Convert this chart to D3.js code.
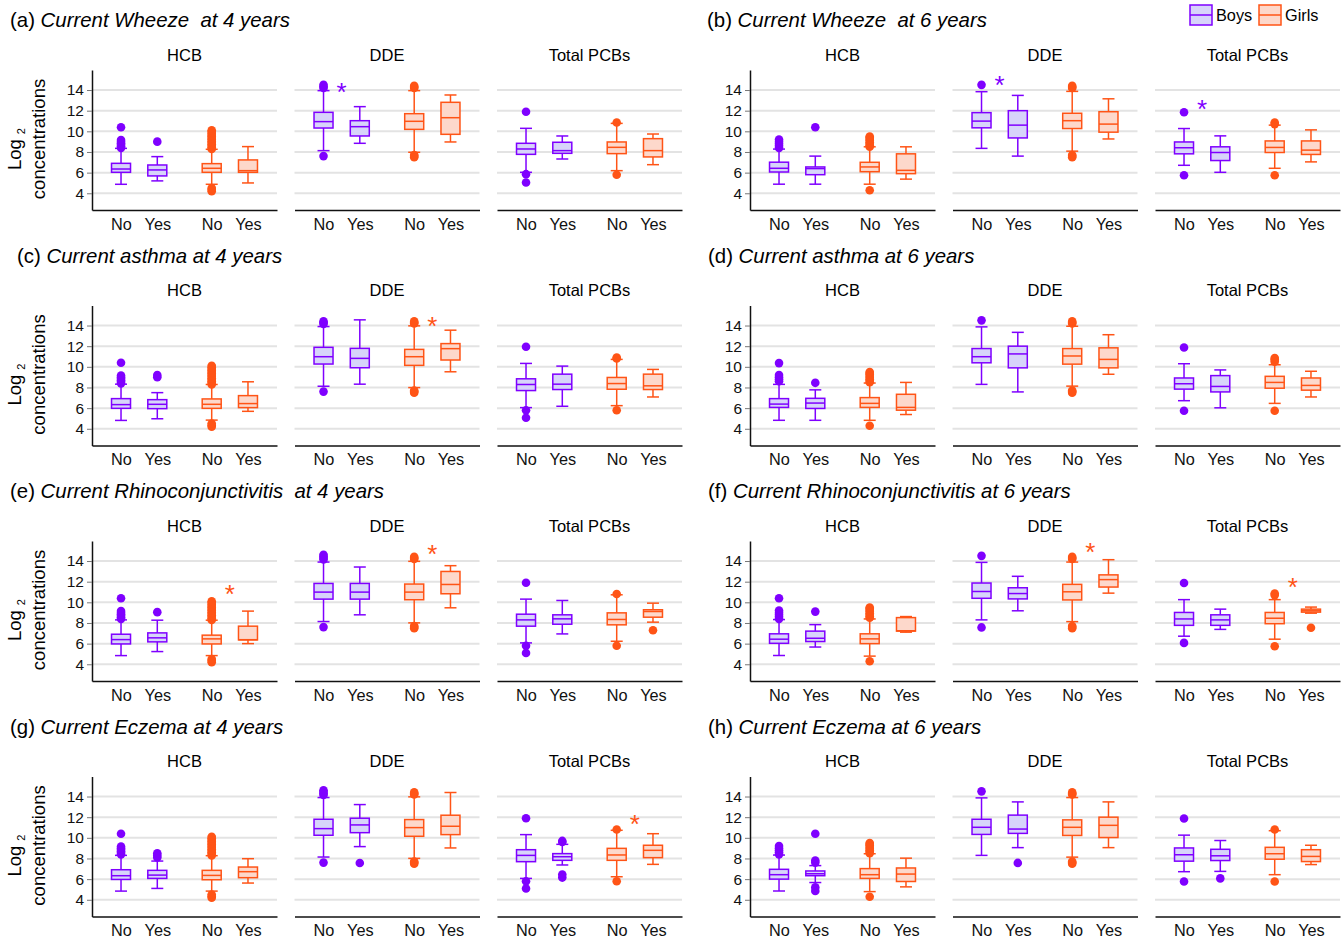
<!DOCTYPE html>
<html>
<head>
<meta charset="utf-8">
<script src="https://cdn.jsdelivr.net/npm/d3@7"></script>
<style>
  body { margin: 0; background: #fff; }
  svg { font-family: "Liberation Sans", Arial, sans-serif; }
</style>
</head>
<body>
<script>
// panel headings
const panelLabels = ['(a)', '(b)', '(c)', '(d)', '(e)', '(f)', '(g)', '(h)'];
const panelNames = [
  'Current Wheeze  at 4 years', 'Current Wheeze  at 6 years',
  'Current asthma at 4 years', 'Current asthma at 6 years',
  'Current Rhinoconjunctivitis  at 4 years', 'Current Rhinoconjunctivitis at 6 years',
  'Current Eczema at 4 years', 'Current Eczema at 6 years'
];
const compounds = ['HCB', 'DDE', 'Total PCBs'];
const groupLabels = ['No', 'Yes', 'No', 'Yes'];
const groupSex = ['Boys', 'Boys', 'Girls', 'Girls'];
const yTicks = [4, 6, 8, 10, 12, 14];

// box stats per compound (HCB, DDE, PCBs), groups boys no/yes, girls no/yes
// each: [lower whisker, q1, median, q3, upper whisker]
const wheeze4 = [
  [[4.87, 6.03, 6.35, 6.9, 8.35], [5.2, 5.68, 6.26, 6.74, 7.55], [4.87, 6.03, 6.42, 6.87, 8.26], [5.0, 6.03, 6.19, 7.23, 8.52]],
  [[8.13, 10.32, 10.94, 11.84, 13.94], [8.84, 9.55, 10.45, 11.03, 12.39], [7.97, 10.19, 10.97, 11.71, 13.94], [8.97, 9.71, 11.32, 12.81, 13.52]],
  [[6.03, 7.77, 8.29, 8.84, 10.29], [7.32, 7.87, 8.13, 8.94, 9.55], [6.19, 7.84, 8.45, 8.97, 10.77], [6.77, 7.52, 8.13, 9.29, 9.74]]
];
const wheeze6 = [
  [[4.88, 6.06, 6.42, 7.01, 8.28], [4.88, 5.8, 6.39, 6.55, 7.6], [4.88, 6.09, 6.55, 7.0, 8.5], [5.37, 5.9, 6.22, 7.82, 8.5]],
  [[8.35, 10.34, 10.99, 11.81, 13.84], [7.6, 9.36, 10.6, 12.0, 13.48], [8.08, 10.27, 11.03, 11.75, 13.87], [9.26, 9.92, 10.7, 11.9, 13.15]],
  [[6.71, 7.82, 8.41, 8.97, 10.27], [6.03, 7.17, 7.95, 8.5, 9.56], [6.42, 7.95, 8.44, 9.07, 10.6], [7.04, 7.76, 8.18, 9.07, 10.14]]
];
const asthma4 = [
  [[4.81, 5.98, 6.34, 6.92, 8.32], [4.97, 5.95, 6.37, 6.82, 7.5], [4.84, 5.98, 6.37, 6.89, 8.29], [5.69, 6.05, 6.44, 7.21, 8.55]],
  [[8.12, 10.27, 10.98, 11.89, 13.9], [8.32, 9.91, 10.82, 11.79, 14.55], [7.99, 10.14, 10.98, 11.69, 13.97], [9.52, 10.66, 11.76, 12.25, 13.55]],
  [[6.05, 7.7, 8.29, 8.84, 10.33], [6.18, 7.8, 8.32, 9.29, 10.07], [6.24, 7.83, 8.38, 8.97, 10.72], [7.08, 7.8, 8.16, 9.29, 9.75]]
];
const asthma6 = [
  [[4.82, 6.07, 6.39, 6.92, 8.3], [4.82, 5.97, 6.49, 6.95, 7.77], [4.82, 6.07, 6.46, 7.02, 8.43], [5.38, 5.8, 6.07, 7.34, 8.49]],
  [[8.3, 10.39, 10.98, 11.77, 13.87], [7.57, 9.9, 11.25, 12.0, 13.34], [8.13, 10.26, 11.05, 11.77, 13.93], [9.28, 9.9, 10.72, 11.84, 13.11]],
  [[6.72, 7.84, 8.36, 8.92, 10.3], [6.03, 7.57, 8.1, 9.15, 9.7], [6.46, 7.93, 8.49, 9.08, 10.2], [7.08, 7.74, 8.2, 8.92, 9.57]]
];
const rhino4 = [
  [[4.84, 5.97, 6.39, 6.91, 8.3], [5.23, 6.17, 6.56, 7.04, 8.27], [4.84, 5.97, 6.46, 6.82, 8.27], [6.0, 6.36, 6.38, 7.69, 9.15]],
  [[8.14, 10.31, 10.99, 11.83, 13.9], [8.79, 10.31, 10.99, 11.83, 13.42], [8.01, 10.25, 10.99, 11.77, 13.97], [9.47, 10.83, 11.73, 12.99, 13.55]],
  [[6.07, 7.69, 8.3, 8.85, 10.31], [6.94, 7.88, 8.4, 8.79, 10.18], [6.23, 7.82, 8.34, 8.98, 10.73], [8.08, 8.56, 9.11, 9.28, 9.92]]
];
const rhino6 = [
  [[4.85, 6.03, 6.43, 6.95, 8.33], [5.67, 6.2, 6.52, 7.21, 7.84], [4.79, 6.0, 6.46, 6.95, 8.39], [7.11, 7.21, 7.25, 8.52, 8.62]],
  [[8.3, 10.39, 11.05, 11.87, 13.87], [9.18, 10.33, 10.85, 11.41, 12.52], [8.13, 10.23, 11.02, 11.74, 13.9], [10.89, 11.48, 12.2, 12.66, 14.13]],
  [[6.72, 7.77, 8.39, 9.02, 10.26], [7.38, 7.77, 8.3, 8.79, 9.34], [6.43, 7.93, 8.46, 9.02, 10.26], [8.95, 9.05, 9.18, 9.34, 9.54]]
];
const eczema4 = [
  [[4.84, 5.97, 6.33, 6.91, 8.3], [5.1, 6.07, 6.39, 6.85, 7.75], [4.84, 5.94, 6.36, 6.85, 8.27], [5.62, 6.14, 6.72, 7.17, 7.98]],
  [[8.14, 10.25, 10.89, 11.8, 13.9], [9.15, 10.5, 11.25, 11.9, 13.22], [8.01, 10.15, 10.99, 11.77, 13.97], [9.02, 10.31, 11.12, 12.19, 14.39]],
  [[6.07, 7.69, 8.3, 8.85, 10.31], [7.37, 7.82, 8.17, 8.47, 9.37], [6.23, 7.82, 8.34, 8.98, 10.73], [7.43, 8.08, 8.79, 9.28, 10.4]]
];
const eczema6 = [
  [[4.85, 6.0, 6.43, 6.95, 8.33], [5.67, 6.33, 6.52, 6.79, 7.31], [4.79, 6.07, 6.43, 7.02, 8.46], [5.25, 5.77, 6.49, 7.08, 8.03]],
  [[8.3, 10.33, 11.02, 11.8, 13.87], [9.05, 10.43, 10.85, 12.2, 13.48], [8.13, 10.23, 11.02, 11.74, 13.9], [9.05, 10.03, 11.21, 12.0, 13.48]],
  [[6.72, 7.74, 8.36, 9.02, 10.26], [6.75, 7.8, 8.26, 8.89, 9.74], [6.43, 7.93, 8.46, 9.08, 10.69], [7.41, 7.7, 8.2, 8.85, 9.28]]
];

// outliers, same layout
const hcbGirlsNoOut4 = [4.2, 4.35, 4.5, 8.3, 8.45, 8.6, 8.75, 8.9, 9.05, 9.2, 9.35, 9.5, 9.65, 9.8, 9.95, 10.1];
const hcbGirlsNoOut6 = [4.3, 8.5, 8.65, 8.8, 8.95, 9.1, 9.25, 9.4, 9.5];
const ddeGirlsNoOut = [7.5, 7.6, 7.7, 14.2, 14.3, 14.4];
const wheeze4Out = [
  [[8.4, 8.55, 8.7, 8.85, 9.0, 9.15, 10.4], [9.0], hcbGirlsNoOut4, []],
  [[7.6, 14.2, 14.35, 14.5], [], ddeGirlsNoOut, []],
  [[5.05, 5.85, 11.9], [], [5.8, 10.85], []]
];
const wheeze6Out = [
  [[8.4, 8.6, 8.8, 9.0, 9.2], [10.4], hcbGirlsNoOut6, []],
  [[14.5], [], ddeGirlsNoOut, []],
  [[5.75, 11.85], [], [5.75, 10.7, 10.85], []]
];
const asthma4Out = [
  [[8.4, 8.55, 8.7, 8.85, 9.0, 9.15, 10.4], [9.0, 9.2], hcbGirlsNoOut4, []],
  [[7.6, 14.15, 14.3, 14.4], [], ddeGirlsNoOut, []],
  [[5.07, 5.8, 11.95], [], [5.8, 10.8, 10.9], []]
];
const asthma6Out = [
  [[8.6, 8.8, 9.0, 9.2, 10.36], [8.45], hcbGirlsNoOut6, []],
  [[14.5], [], ddeGirlsNoOut, []],
  [[5.75, 11.87], [], [5.75, 10.5, 10.7, 10.85], []]
];
const rhino4Out = [
  [[8.4, 8.55, 8.7, 8.85, 9.0, 9.15, 10.4], [9.05], hcbGirlsNoOut4, []],
  [[7.6, 14.15, 14.3, 14.45, 14.6], [], ddeGirlsNoOut, []],
  [[5.1, 5.8, 11.9], [], [5.8, 10.8], [7.3]]
];
const rhino6Out = [
  [[8.4, 8.6, 8.8, 9.0, 9.2, 10.4], [9.1], hcbGirlsNoOut6, []],
  [[7.57, 14.5], [], ddeGirlsNoOut, []],
  [[6.07, 11.87], [], [5.75, 10.7, 10.85], [7.54]]
];
const eczema4Out = [
  [[8.4, 8.55, 8.7, 8.85, 9.0, 9.15, 10.4], [8.1, 8.3, 8.5], hcbGirlsNoOut4, []],
  [[7.6, 14.15, 14.3, 14.45, 14.6], [7.56], ddeGirlsNoOut, []],
  [[5.1, 5.8, 11.9], [6.15, 6.45, 9.6, 9.7], [5.8, 10.8], []]
];
const eczema6Out = [
  [[8.4, 8.6, 8.8, 9.0, 9.2], [4.85, 5.2, 7.6, 7.8, 10.4], hcbGirlsNoOut6, []],
  [[14.5], [7.57], ddeGirlsNoOut, []],
  [[5.77, 11.87], [6.07], [5.77, 10.8], []]
];

const panelStats = [wheeze4, wheeze6, asthma4, asthma6, rhino4, rhino6, eczema4, eczema6];
const panelOutliers = [wheeze4Out, wheeze6Out, asthma4Out, asthma6Out, rhino4Out, rhino6Out, eczema4Out, eczema6Out];

// significance stars: panel, compound, sex, height in log2 units
const stars = [
  { panel: 0, compound: 1, sex: 'Boys', value: 14.4 },
  { panel: 1, compound: 1, sex: 'Boys', value: 15.1 },
  { panel: 1, compound: 2, sex: 'Boys', value: 12.7 },
  { panel: 2, compound: 1, sex: 'Girls', value: 14.5 },
  { panel: 4, compound: 0, sex: 'Girls', value: 11.4 },
  { panel: 4, compound: 1, sex: 'Girls', value: 15.25 },
  { panel: 5, compound: 1, sex: 'Girls', value: 15.45 },
  { panel: 5, compound: 2, sex: 'Girls', value: 12.1 },
  { panel: 6, compound: 2, sex: 'Girls', value: 11.9 }
];

const width = 1343, height = 938;
const svg = d3.select('body').append('svg')
  .attr('width', width)
  .attr('height', height);

const colors = { Boys: '#7f00ff', Girls: '#ff5416' };
const fills = { Boys: '#d7d4fa', Girls: '#fdd8cb' };

// layout
const rowStep = 235.5;
const colAxisX = [92, 750];
const titleX = [10, 707, 17, 708, 10, 708, 10, 708];
const subStep = 202.5, subW = 185;
const plotTop = 70, plotBottom = 210;
const groupPos = [1, 2, 3.5, 4.5];
const boxW = 19, capW = 12;

let y = d3.scaleLinear()
  .domain([2.38, 15.94])
  .range([plotBottom, plotTop]);

panelStats.forEach(function (stats, p) {
  let row = Math.floor(p / 2), col = p % 2;
  let g = svg.append('g').attr('transform', 'translate(0,' + (row * rowStep) + ')');

  // heading
  let t = g.append('text')
    .attr('x', titleX[p])
    .attr('y', 27)
    .attr('font-size', 20.4)
    .style('white-space', 'pre');
  t.append('tspan').text(panelLabels[p] + ' ');
  t.append('tspan').attr('font-style', 'italic').text(panelNames[p]);

  // y label
  if (col === 0) {
    let lg = g.append('text')
      .attr('transform', 'translate(21,170) rotate(-90)')
      .attr('font-size', 18.5);
    lg.append('tspan').text('Log');
    lg.append('tspan').attr('font-size', 11).attr('dx', 5).attr('dy', 4).text('2');
    g.append('text')
      .attr('transform', 'translate(45,139) rotate(-90)')
      .attr('text-anchor', 'middle')
      .attr('font-size', 18.5)
      .text('concentrations');
  }

  compounds.forEach(function (name, c) {
    let x0 = colAxisX[col] + c * subStep;
    let x = d3.scaleLinear().domain([0.2, 5.3]).range([x0, x0 + subW]);
    let sg = g.append('g');

    sg.append('text')
      .attr('x', x0 + subW / 2)
      .attr('y', 60.5)
      .attr('text-anchor', 'middle')
      .attr('font-size', 16.5)
      .text(name);

    // grid
    sg.selectAll('.grid')
      .data(yTicks)
      .enter().append('line')
      .attr('x1', x0).attr('x2', x0 + subW)
      .attr('y1', d => y(d)).attr('y2', d => y(d))
      .attr('stroke', '#e3e3e3')
      .attr('stroke-width', 2);

    let xAxis = d3.axisBottom(x)
      .tickValues(groupPos)
      .tickFormat((d, i) => groupLabels[i])
      .tickSize(0)
      .tickSizeOuter(0)
      .tickPadding(8);
    let xg = sg.append('g')
      .attr('transform', 'translate(0,' + plotBottom + ')')
      .call(xAxis);
    xg.select('.domain').attr('stroke', '#111').attr('stroke-width', 1.5);
    xg.selectAll('text').attr('font-size', 16.3).attr('fill', '#111').attr('font-family', null);

    if (c === 0) {
      let yAxis = d3.axisLeft(y).tickValues(yTicks).tickSize(5).tickSizeOuter(0).tickPadding(3);
      let yg = sg.append('g')
        .attr('transform', 'translate(' + x0 + ',0)')
        .call(yAxis);
      yg.select('.domain').attr('stroke', '#111').attr('stroke-width', 1.5);
      yg.selectAll('.tick line').attr('stroke', '#777');
      yg.selectAll('text').attr('font-size', 15.5).attr('fill', '#111').attr('font-family', null);
    }

    let outs = panelOutliers[p][c];
    stats[c].forEach(function (s, i) {
      let sex = groupSex[i];
      let cx = x(groupPos[i]);
      let stroke = colors[sex];
      let bg = sg.append('g').attr('stroke', stroke).attr('stroke-width', 1.5);
      bg.append('line').attr('x1', cx).attr('x2', cx).attr('y1', y(s[4])).attr('y2', y(s[3]));
      bg.append('line').attr('x1', cx).attr('x2', cx).attr('y1', y(s[1])).attr('y2', y(s[0]));
      bg.append('line').attr('x1', cx - capW / 2).attr('x2', cx + capW / 2).attr('y1', y(s[4])).attr('y2', y(s[4]));
      bg.append('line').attr('x1', cx - capW / 2).attr('x2', cx + capW / 2).attr('y1', y(s[0])).attr('y2', y(s[0]));
      bg.append('rect')
        .attr('x', cx - boxW / 2)
        .attr('y', y(s[3]))
        .attr('width', boxW)
        .attr('height', y(s[1]) - y(s[3]))
        .attr('fill', fills[sex]);
      bg.append('line').attr('x1', cx - boxW / 2).attr('x2', cx + boxW / 2).attr('y1', y(s[2])).attr('y2', y(s[2]));

      sg.selectAll(null)
        .data(outs[i])
        .enter().append('circle')
        .attr('cx', cx)
        .attr('cy', d => y(d))
        .attr('r', 4.3)
        .attr('fill', stroke);
    });

    stars.filter(d => d.panel === p && d.compound === c).forEach(function (d) {
      let mid = d.sex === 'Boys' ? (groupPos[0] + groupPos[1]) / 2 : (groupPos[2] + groupPos[3]) / 2;
      sg.append('text')
        .attr('x', x(mid))
        .attr('y', y(d.value) + 15)
        .attr('text-anchor', 'middle')
        .attr('font-size', 26)
        .attr('fill', colors[d.sex])
        .text('*');
    });
  });
});

// legend
const legendItems = ['Boys', 'Girls'];
const legendX = [1190, 1259];
legendItems.forEach(function (sex, i) {
  let lx = legendX[i];
  svg.append('rect')
    .attr('x', lx).attr('y', 5)
    .attr('width', 22).attr('height', 20)
    .attr('fill', fills[sex])
    .attr('stroke', colors[sex])
    .attr('stroke-width', 1.5);
  svg.append('line')
    .attr('x1', lx).attr('x2', lx + 22)
    .attr('y1', 15).attr('y2', 15)
    .attr('stroke', colors[sex])
    .attr('stroke-width', 1.5);
  svg.append('text')
    .attr('x', lx + 26)
    .attr('y', 21)
    .attr('font-size', 16.3)
    .text(sex);
});
</script>
</body>
</html>
